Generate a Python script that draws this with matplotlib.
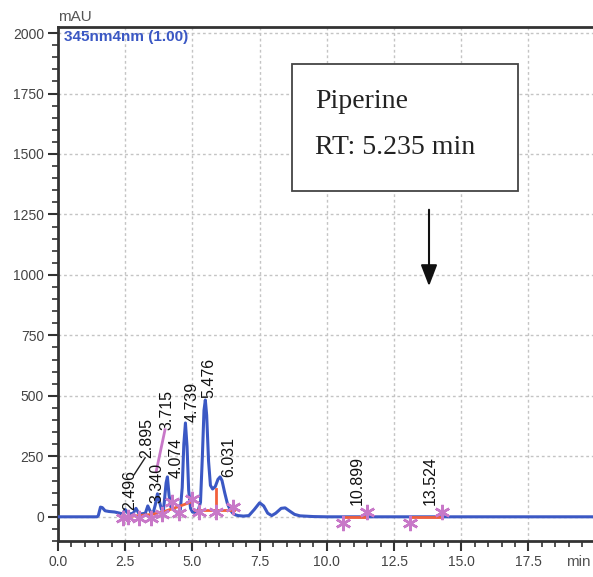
import matplotlib
matplotlib.use("Agg")
import matplotlib.pyplot as plt
from matplotlib.ticker import MultipleLocator, FixedLocator
from matplotlib.patches import Rectangle

# chromatogram trace (min, mAU)
time = [0.0, 1.45, 1.5, 1.58, 1.65, 1.75, 1.9, 2.1, 2.3, 2.4, 2.5, 2.6, 2.7,
        2.8, 2.9, 3.0, 3.1, 3.25, 3.34, 3.45, 3.55, 3.62, 3.7, 3.78, 3.85,
        3.92, 3.97, 4.02, 4.07, 4.13, 4.2, 4.3, 4.45, 4.55, 4.62, 4.68, 4.74,
        4.8, 4.86, 4.93, 5.0, 5.1, 5.2, 5.3, 5.37, 5.43, 5.48, 5.53, 5.6,
        5.67, 5.75, 5.85, 5.95, 6.03, 6.1, 6.2, 6.3, 6.4, 6.5, 6.6, 6.7, 6.9,
        7.1, 7.3, 7.5, 7.65, 7.8, 7.95, 8.1, 8.3, 8.45, 8.6, 8.8, 9.0, 9.5,
        10.0, 19.9]
mau = [0, 0, 5, 40, 38, 25, 22, 20, 15, 12, 30, 15, 12,
       15, 35, 15, 12, 15, 45, 18, 20, 50, 95, 60, 30,
       25, 80, 140, 165, 90, 40, 30, 15, 30, 120, 300, 388,
       290, 110, 35, 20, 18, 20, 60, 250, 440, 483, 420, 230,
       130, 115, 125, 155, 165, 150, 100, 55, 30, 15, 8, 5, 3,
       5, 30, 58, 45, 15, 5, 15, 35, 37, 25, 10, 4, 1,
       0, 0]

# integration baselines
base1_t = [2.4, 3.0, 3.5, 3.9, 4.3, 4.55, 5.05]
base1_y = [0, 5, 10, 20, 35, 45, 65]
base2_t = [5.1, 5.86, 6.55]
base2_y = [28, 28, 28]
base3_t = [10.6, 11.5]
base3_y = [0, 0]
base4_t = [13.1, 14.3]
base4_y = [0, 0]
drop_t = [5.86, 5.86]
drop_y = [28, 115]

# peak start / end marks
mark_t = [2.4, 2.6, 3.0, 3.45, 3.85, 4.25, 4.5, 5.0, 5.25, 5.86, 6.5,
          10.6, 11.5, 13.1, 14.3]
mark_y = [-5, 0, -5, -5, 10, 60, 15, 75, 20, 20, 40,
          -25, 20, -25, 18]

# peak labels
labels = ["2.496", "2.895", "3.340", "3.715", "4.074", "4.739", "5.476",
          "6.031", "10.899", "13.524"]
label_t = [2.68, 3.31, 3.68, 4.06, 4.39, 4.99, 5.62, 6.36, 11.12, 13.84]
label_y = [29, 244, 58, 360, 161, 393, 492, 165, 50, 50]

fig = plt.figure(figsize=(5.93, 5.77), dpi=100)
ax = fig.add_axes([58 / 593, 36 / 577, 1 - 58 / 593, 1 - 36 / 577 - 27 / 577])

blue = "#3b58c4"
ax.plot(time, mau, color=blue, lw=2.2, zorder=3)
for bt, by in [(base1_t, base1_y), (base2_t, base2_y), (base3_t, base3_y),
               (base4_t, base4_y), (drop_t, drop_y)]:
    ax.plot(bt, by, color="#f2603c", lw=2, zorder=4)
ax.plot(mark_t, mark_y, ls="none", marker=(6, 2, 0), ms=11, mew=1.8,
        color="#c878c8", zorder=5)

for lab, lt, ly in zip(labels, label_t, label_y):
    ax.text(lt, ly, lab, rotation=90, ha="center", va="bottom",
            fontsize=11.5, family="Liberation Sans", color="#111", zorder=6)
# leader lines
ax.plot([2.83, 3.24], [174, 244], color="#222", lw=1, zorder=5)
ax.plot([3.65, 3.98], [186, 360], color="#c878c8", lw=2, zorder=5)

ax.set_xlim(0, 19.9)
ax.set_ylim(-100, 2025)
ax.xaxis.set_major_locator(FixedLocator([0, 2.5, 5, 7.5, 10, 12.5, 15, 17.5]))
ax.xaxis.set_minor_locator(MultipleLocator(0.5))
ax.yaxis.set_major_locator(FixedLocator([0, 250, 500, 750, 1000, 1250, 1500, 1750, 2000]))
ax.yaxis.set_minor_locator(MultipleLocator(50))
ax.set_xticklabels(["0.0", "2.5", "5.0", "7.5", "10.0", "12.5", "15.0", "17.5"])
ax.tick_params(which="major", direction="out", length=7, width=1.5, colors="#333",
               labelsize=10, labelcolor="#444", pad=3)
ax.tick_params(which="minor", direction="out", length=4, width=1.2, colors="#333")
for lab in ax.get_xticklabels() + ax.get_yticklabels():
    lab.set_family("Liberation Sans")

ax.grid(True, which="major", ls=(0, (2, 2)), color="#c4c4c4", lw=1, zorder=0)
for s in ["top", "left", "bottom"]:
    ax.spines[s].set_linewidth(2)
    ax.spines[s].set_color("#333")
ax.spines["right"].set_visible(False)

ax.text(0.012, 0.995, "345nm4nm (1.00)", transform=ax.transAxes, ha="left", va="top",
        fontsize=11, fontweight="bold", color=blue, family="Liberation Sans")
ax.text(0, 1.005, "mAU", transform=ax.transAxes, ha="left", va="bottom",
        fontsize=11, color="#555", family="Liberation Sans")
ax.annotate("min", xy=(1.0, 0), xycoords="axes fraction",
            xytext=(-2, -10), textcoords="offset points", ha="right", va="top",
            fontsize=11, color="#555", family="Liberation Sans", annotation_clip=False)

# annotation box
ax.add_patch(Rectangle((8.70, 1347), 8.41, 525, fill=True, facecolor="white",
                       edgecolor="#444", lw=1.3, zorder=7))
ax.text(9.55, 1690, "Piperine", fontsize=20, family="Liberation Serif",
        color="#222", zorder=8, va="baseline")
ax.text(9.55, 1500, "RT: 5.235 min", fontsize=20, family="Liberation Serif",
        color="#222", zorder=8, va="baseline")
ax.annotate("", xy=(13.8, 942), xytext=(13.8, 1281),
            arrowprops=dict(arrowstyle="-|>,head_width=0.5,head_length=1.3",
                            color="#111", lw=1.5), zorder=8)

fig.savefig("out.png", dpi=100)
